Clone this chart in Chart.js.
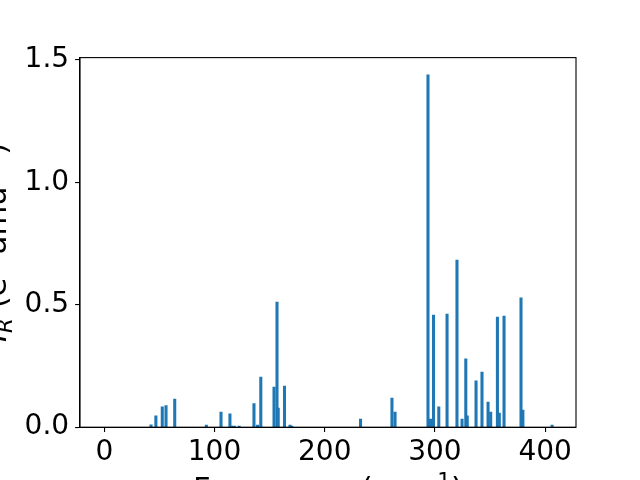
<!DOCTYPE html>
<html>
<head>
<meta charset="utf-8">
<script src="https://cdn.jsdelivr.net/npm/chart.js@4.4.0/dist/chart.umd.min.js"></script>
<style>
  body { margin: 0; background: #fff; }
  #wrap { width: 640px; height: 480px; }
</style>
</head>
<body>
<div id="wrap"><canvas id="irChart" width="640" height="480"></canvas></div>
<script>
// mode frequencies (cm^-1) and IR intensities
const freqs = [42.4, 46.8, 52.6, 56.0, 63.9, 92.6, 105.9, 114.0, 115.4, 118.0,
  122.4, 135.8, 139.0, 142.0, 154.0, 156.7, 157.8, 163.5, 168.5, 170.0,
  232.5, 261.0, 263.8, 293.7, 296.0, 298.7, 303.5, 311.0, 320.0, 324.6,
  328.0, 329.3, 337.3, 342.7, 348.2, 350.6, 356.7, 358.4, 362.7, 378.1,
  379.8, 406.3];
const intensities = [0.010, 0.046, 0.083, 0.088, 0.115, 0.009, 0.062, 0.055, 0.005, 0.005,
  0.005, 0.096, 0.009, 0.205, 0.164, 0.511, 0.078, 0.168, 0.009, 0.005,
  0.033, 0.119, 0.062, 1.439, 0.033, 0.458, 0.083, 0.462, 0.683, 0.033,
  0.279, 0.046, 0.189, 0.225, 0.103, 0.062, 0.450, 0.058, 0.454, 0.528,
  0.070, 0.009];

const xTicks = [0, 100, 200, 300, 400];
const yTicks = [0, 0.5, 1.0, 1.5];

const FONT = "'DejaVu Sans', sans-serif";
const LBL = 30.6;
const SUB = LBL * 0.7;

// matplotlib style box around the axes
const boxPlugin = {
  id: 'box',
  afterDraw(chart) {
    const { ctx, chartArea: a } = chart;
    ctx.save();
    ctx.strokeStyle = '#000';
    ctx.lineWidth = 1.1;
    ctx.strokeRect(a.left, a.top, a.right - a.left, a.bottom - a.top);
    ctx.restore();
  }
};

// draw a label made of pieces (for sub/superscripts), centred on x = 0
function drawPieces(ctx, parts) {
  let total = 0;
  parts.forEach(p => { ctx.font = p.f; p.w = ctx.measureText(p.t).width; total += p.w; });
  ctx.fillStyle = '#000';
  ctx.textBaseline = 'alphabetic';
  let x = -total / 2;
  parts.forEach(p => { ctx.font = p.f; ctx.fillText(p.t, x, p.dy); x += p.w; });
}

const axisTitles = {
  id: 'axisTitles',
  afterDraw(chart) {
    const ctx = chart.ctx;
    const a = chart.chartArea;
    ctx.save();
    ctx.translate((a.left + a.right) / 2, 499);
    drawPieces(ctx, [
      { t: 'Frequency (cm', f: LBL + 'px ' + FONT, dy: 0 },
      { t: '\u22121', f: SUB + 'px ' + FONT, dy: -11 },
      { t: ')', f: LBL + 'px ' + FONT, dy: 0 }
    ]);
    ctx.restore();

    ctx.save();
    ctx.translate(6, (a.top + a.bottom) / 2);
    ctx.rotate(-Math.PI / 2);
    drawPieces(ctx, [
      { t: 'I', f: 'italic ' + LBL + 'px ' + FONT, dy: 0 },
      { t: 'R', f: 'italic ' + SUB + 'px ' + FONT, dy: 5.5 },
      { t: ' (e', f: LBL + 'px ' + FONT, dy: 0 },
      { t: '2', f: SUB + 'px ' + FONT, dy: -11 },
      { t: ' amu', f: LBL + 'px ' + FONT, dy: 0 },
      { t: '\u22121', f: SUB + 'px ' + FONT, dy: -11 },
      { t: ')', f: LBL + 'px ' + FONT, dy: 0 }
    ]);
    ctx.restore();
  }
};

const ctx = document.getElementById('irChart').getContext('2d');

const irChart = new Chart(ctx, {
  type: 'bar',
  data: {
    datasets: [{
      data: freqs.map((f, i) => ({ x: f, y: intensities[i] })),
      backgroundColor: '#1f77b4',
      borderWidth: 0,
      barThickness: 2.4
    }]
  },
  options: {
    responsive: false,
    animation: false,
    layout: {
      padding: { left: 0, top: 57.6, right: 64, bottom: 0 }
    },
    plugins: {
      legend: { display: false },
      tooltip: { enabled: false }
    },
    scales: {
      x: {
        type: 'linear',
        min: -22.05,
        max: 428,
        offset: false,
        afterBuildTicks: s => { s.ticks = xTicks.map(v => ({ value: v })); },
        afterFit: s => { s.height = 52.8; },
        ticks: {
          color: '#000',
          font: { family: FONT, size: 28 },
          padding: 4,
          maxRotation: 0,
          callback: v => String(v)
        },
        grid: {
          offset: false,
          drawOnChartArea: false,
          color: '#000',
          tickColor: '#000',
          tickLength: 4.9,
          lineWidth: 1.1
        },
        border: { color: '#000', width: 1.1 }
      },
      y: {
        min: 0,
        max: 1.5098,
        afterBuildTicks: s => { s.ticks = yTicks.map(v => ({ value: v })); },
        afterFit: s => { s.width = 80; },
        ticks: {
          color: '#000',
          font: { family: FONT, size: 28 },
          padding: 6,
          callback: v => v.toFixed(1)
        },
        grid: {
          drawOnChartArea: false,
          color: '#000',
          tickColor: '#000',
          tickLength: 4.9,
          lineWidth: 1.1
        },
        border: { color: '#000', width: 1.1 }
      }
    }
  },
  plugins: [boxPlugin, axisTitles]
});
</script>
</body>
</html>
